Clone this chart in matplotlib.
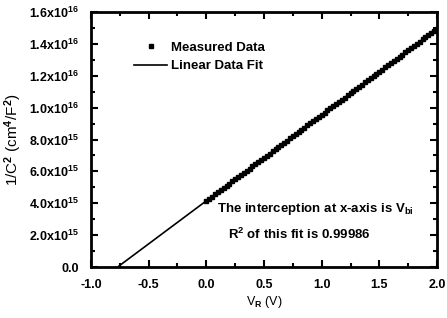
import numpy as np
import matplotlib
matplotlib.use("Agg")
import matplotlib.pyplot as plt
from matplotlib.ticker import MultipleLocator, FuncFormatter

plt.rcParams['font.family'] = 'Liberation Sans'
plt.rcParams['font.weight'] = 'bold'
plt.rcParams['mathtext.fontset'] = 'custom'
plt.rcParams['mathtext.rm'] = 'Liberation Sans:bold'
plt.rcParams['mathtext.it'] = 'Liberation Sans:bold'
plt.rcParams['mathtext.default'] = 'rm'

# measured 1/C^2 vs reverse bias (units of 1e15 cm^4/F^2)
voltage = [0.000, 0.025, 0.050, 0.075, 0.100, 0.125, 0.150, 0.175, 0.200, 0.225,
           0.250, 0.275, 0.300, 0.325, 0.350, 0.375, 0.400, 0.425, 0.450, 0.475,
           0.500, 0.525, 0.550, 0.575, 0.600, 0.625, 0.650, 0.675, 0.700, 0.725,
           0.750, 0.775, 0.800, 0.825, 0.850, 0.875, 0.900, 0.925, 0.950, 0.975,
           1.000, 1.025, 1.050, 1.075, 1.100, 1.125, 1.150, 1.175, 1.200, 1.225,
           1.250, 1.275, 1.300, 1.325, 1.350, 1.375, 1.400, 1.425, 1.450, 1.475,
           1.500, 1.525, 1.550, 1.575, 1.600, 1.625, 1.650, 1.675, 1.700, 1.725,
           1.750, 1.775, 1.800, 1.825, 1.850, 1.875, 1.900, 1.925, 1.950, 1.975, 2.000]
inv_c2 = [4.15, 4.29, 4.42, 4.56, 4.69, 4.83, 4.96, 5.10, 5.23, 5.37,
          5.50, 5.64, 5.77, 5.91, 6.04, 6.18, 6.31, 6.45, 6.58, 6.72,
          6.85, 6.99, 7.12, 7.26, 7.39, 7.53, 7.66, 7.80, 7.93, 8.07,
          8.20, 8.34, 8.47, 8.61, 8.74, 8.88, 9.01, 9.15, 9.28, 9.42,
          9.55, 9.69, 9.82, 9.96, 10.09, 10.23, 10.36, 10.50, 10.63, 10.77,
          10.90, 11.04, 11.17, 11.31, 11.44, 11.58, 11.71, 11.85, 11.98, 12.12,
          12.25, 12.39, 12.52, 12.66, 12.79, 12.93, 13.06, 13.20, 13.33, 13.47,
          13.60, 13.74, 13.87, 14.01, 14.14, 14.28, 14.41, 14.55, 14.68, 14.82, 14.95]
scale = 1e15

x = np.array(voltage)
y = np.array(inv_c2) * scale

# linear fit, drawn from the x-axis intercept (Vbi) to the end of the axis
slope, icpt = np.polyfit(x, y, 1)
vbi = -icpt / slope
xf = np.array([vbi, 2.0])
yf = slope * xf + icpt

fig = plt.figure(figsize=(4.47, 3.18), dpi=100)
ax = fig.add_axes([91 / 447, 1 - 267 / 318, 346 / 447, 255 / 318])

ax.plot(x, y, 's', color='black', markersize=3, label='Measured Data')
ax.plot(xf, yf, '-', color='black', linewidth=1.2, label='Linear Data Fit')

ax.set_xlim(-1.0, 2.0)
ax.set_ylim(0, 1.6e16)
ax.xaxis.set_major_locator(MultipleLocator(0.5))
ax.xaxis.set_minor_locator(MultipleLocator(0.25))
ax.yaxis.set_major_locator(MultipleLocator(2e15))
ax.yaxis.set_minor_locator(MultipleLocator(1e15))


def yfmt(v, pos):
    if v == 0:
        return '0.0'
    if v >= 1e16:
        return '%.1fx10$^{16}$' % (v / 1e16)
    return '%.1fx10$^{15}$' % (v / 1e15)


ax.yaxis.set_major_formatter(FuncFormatter(yfmt))
ax.xaxis.set_major_formatter(FuncFormatter(lambda v, p: '%.1f' % v))

ax.tick_params(which='both', direction='in', top=True, right=True, width=1.5,
               labelsize=9)
ax.tick_params(which='major', length=5)
ax.tick_params(which='minor', length=3)
ax.tick_params(axis='x', pad=9)
ax.tick_params(axis='y', pad=9)
for s in ax.spines.values():
    s.set_linewidth(2)

ax.set_xlabel('V$_R$ (V)', fontsize=9, labelpad=2)
ax.set_ylabel('1/C$^2$ (cm$^4$/F$^2$)', fontsize=11, fontweight='normal', labelpad=3)

leg = ax.legend(loc='upper left', bbox_to_anchor=(0.09, 0.93), frameon=False,
                fontsize=9.5, handlelength=2.5, handletextpad=0.3, labelspacing=0.45,
                markerscale=0.8)

ax.text(0.365, 0.215, 'The interception at x-axis is V$_{bi}$', transform=ax.transAxes,
        fontsize=9.5)
ax.text(0.395, 0.11, 'R$^2$ of this fit is 0.99986', transform=ax.transAxes,
        fontsize=9.5)

fig.savefig('out.png', dpi=100)
